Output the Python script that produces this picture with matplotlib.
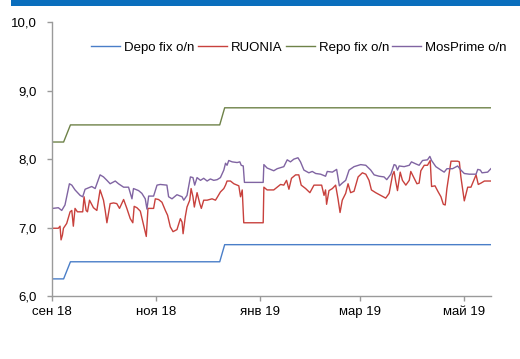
import numpy as np
import pandas as pd
import matplotlib
matplotlib.use("Agg")
import matplotlib.pyplot as plt
from matplotlib.patches import Rectangle

# ---------------- DATA ----------------
START = pd.Timestamp("2018-09-01")
END_DAY = 257.7

# step rates (days since 1 Sep 2018)
step_days = [0, 7, 11, 98.6, 101.5, 257.7]
depo_vals = [6.25, 6.25, 6.50, 6.50, 6.75, 6.75]
repo_vals = [8.25, 8.25, 8.50, 8.50, 8.75, 8.75]

ruonia_days = [0.6, 3.9, 4.9, 5.5, 6.3, 6.9, 8.8, 10.8, 11.8, 12.7, 13.7, 15.1, 16.7, 18.2,
               19.0, 20.2, 21.0, 22.2, 24.5, 26.5, 28.4, 30.4, 31.4, 32.4, 34.3, 36.3, 38.2,
               39.8, 42.2, 44.1, 46.1, 47.6, 48.4, 50.0, 52.0, 53.9, 55.5, 56.5, 59.8, 60.8,
               62.7, 64.7, 66.7, 68.0, 69.6, 71.2, 73.5, 75.5, 76.5, 77.1, 78.4, 79.4, 81.0,
               81.8, 82.9, 83.7, 85.3, 86.9, 87.8, 89.2, 91.2, 94.1, 96.1, 97.1, 99.0, 101.0,
               102.0, 102.9, 104.9, 106.9, 109.8, 110.8, 111.8, 112.7, 124.1, 124.5, 126.4,
               130.3, 132.3, 134.3, 136.2, 137.8, 139.2, 140.7, 143.1, 145.0, 146.4, 149.0,
               151.5, 153.9, 156.8, 158.4, 159.8, 160.7, 161.3, 162.7, 164.7, 166.6, 168.0,
               169.2, 170.5, 172.5, 173.9, 175.4, 177.4, 179.8, 182.3, 184.3, 186.2, 187.6,
               190.1, 193.1, 196.0, 198.0, 200.0, 200.9, 201.9, 202.9, 204.5, 205.8, 207.8,
               209.8, 210.7, 212.7, 214.3, 215.6, 216.6, 218.6, 220.5, 222.1, 222.9, 224.9,
               226.8, 228.4, 229.8, 230.9, 231.9, 234.3, 238.2, 239.2, 240.1, 242.1, 244.1,
               246.0, 249.0, 250.3, 251.9, 253.9, 255.8, 257.7]
ruonia_vals = [6.99, 6.99, 7.02, 6.82, 6.89, 6.99, 7.06, 7.23, 7.25, 7.02, 7.28, 7.23, 7.23, 7.23,
               7.45, 7.25, 7.23, 7.40, 7.29, 7.25, 7.55, 7.40, 7.25, 7.07, 7.35, 7.36, 7.35,
               7.28, 7.41, 7.28, 7.13, 7.07, 7.31, 7.29, 7.24, 7.04, 6.87, 7.28, 7.28, 7.42,
               7.41, 7.37, 7.25, 7.18, 7.01, 6.94, 6.97, 7.13, 7.08, 6.91, 7.16, 7.30, 7.40,
               7.57, 7.45, 7.30, 7.51, 7.35, 7.28, 7.40, 7.40, 7.42, 7.40, 7.44, 7.52, 7.57,
               7.62, 7.68, 7.68, 7.64, 7.61, 7.45, 7.55, 7.07, 7.07, 7.59, 7.55,
               7.55, 7.59, 7.63, 7.62, 7.69, 7.56, 7.72, 7.77, 7.77, 7.62, 7.57,
               7.51, 7.62, 7.62, 7.62, 7.47, 7.55, 7.34, 7.54, 7.57, 7.62, 7.42,
               7.22, 7.40, 7.50, 7.64, 7.51, 7.53, 7.74, 7.80, 7.78, 7.69, 7.55,
               7.51, 7.47, 7.43, 7.50, 7.77, 7.82, 7.67, 7.54, 7.81, 7.69, 7.62,
               7.69, 7.82, 7.72, 7.64, 7.65, 7.83, 7.91, 7.91, 7.98, 7.60, 7.61,
               7.52, 7.45, 7.34, 7.33, 7.57, 7.97, 7.97, 7.96, 7.74, 7.39, 7.59,
               7.59, 7.77, 7.63, 7.65, 7.68, 7.68, 7.68]

mosprime_days = [0.6, 3.9, 5.9, 7.8, 10.4, 11.8, 13.7, 16.7, 18.2, 19.6, 20.6, 23.5, 25.5, 28.4,
                 30.4, 32.4, 34.3, 37.3, 39.2, 42.2, 45.1, 47.1, 48.0, 51.0, 52.9, 54.9, 55.9,
                 56.9, 59.8, 61.8, 63.7, 67.6, 68.6, 70.6, 73.5, 76.5, 77.5, 79.4, 81.4, 82.9,
                 83.9, 85.3, 87.3, 89.2, 91.2, 93.1, 95.1, 97.1, 99.0, 101.0, 102.0, 102.9,
                 103.9, 105.9, 108.8, 110.4, 111.2, 112.4, 113.1, 124.1, 124.5, 126.4, 130.3,
                 132.3, 136.2, 138.2, 140.1, 142.1, 144.5, 146.0, 148.0, 150.9, 152.9, 154.9,
                 157.8, 160.7, 161.7, 164.7, 167.2, 168.8, 170.5, 172.5, 174.5, 177.4, 181.3,
                 184.3, 187.2, 189.2, 192.1, 195.0, 196.6, 199.0, 200.9, 201.9, 202.9, 203.9,
                 206.8, 209.8, 211.1, 213.7, 215.6, 217.6, 220.5, 221.9, 222.9, 225.4, 228.4,
                 230.3, 231.9, 235.2, 238.2, 240.1, 242.1, 245.0, 249.0, 250.0, 251.5, 252.5,
                 255.8, 257.7]
mosprime_vals = [7.28, 7.29, 7.25, 7.33, 7.64, 7.62, 7.55, 7.47, 7.45, 7.56, 7.57, 7.60, 7.57, 7.77,
                 7.74, 7.69, 7.64, 7.68, 7.64, 7.59, 7.59, 7.42, 7.57, 7.54, 7.50, 7.42, 7.27,
                 7.46, 7.46, 7.62, 7.63, 7.62, 7.45, 7.42, 7.48, 7.45, 7.40, 7.47, 7.74, 7.73,
                 7.62, 7.73, 7.69, 7.72, 7.68, 7.71, 7.69, 7.70, 7.73, 7.84, 7.94, 7.91,
                 7.98, 7.96, 7.95, 7.96, 7.91, 7.90, 7.66, 7.66, 7.92, 7.87, 7.83,
                 7.86, 7.89, 7.99, 7.96, 8.00, 8.02, 7.96, 7.84, 7.80, 7.82, 7.79,
                 7.78, 7.75, 7.82, 7.81, 7.85, 7.61, 7.65, 7.69, 7.84, 7.89, 7.92,
                 7.91, 7.84, 7.77, 7.75, 7.74, 7.70, 7.78, 7.92, 7.91, 7.84, 7.90,
                 7.89, 7.91, 7.96, 7.93, 7.91, 7.98, 7.99, 8.04, 7.98, 7.89, 7.84,
                 7.81, 7.86, 7.86, 7.90, 7.84, 7.79, 7.78, 7.78, 7.85, 7.84, 7.80,
                 7.81, 7.86]

tick_dates = ["2018-09-01", "2018-11-01", "2019-01-01", "2019-03-01", "2019-05-01"]
tick_labels = ["сен 18", "ноя 18", "янв 19", "мар 19", "май 19"]
y_ticks = [6, 7, 8, 9, 10]
# --------------------------------------

def to_dates(days):
    return START + pd.to_timedelta(np.array(days), unit="D")

plt.rcParams["font.family"] = ["Liberation Sans", "DejaVu Sans"]
plt.rcParams["font.size"] = 9.5

fig = plt.figure(figsize=(5.2, 3.59), dpi=100)
ax = fig.add_axes([0.0994, 0.1755, 0.8446, 0.7625])

# cut-off header bar at the top
fig.patches.append(Rectangle((11 / 520, 1 - 6 / 359), 1, 6 / 359, transform=fig.transFigure,
                             facecolor="#0A6EBD", edgecolor="none"))

lw = 1.0
ax.plot(to_dates(step_days), depo_vals, color="#4A7EC8", lw=lw, label="Depo fix o/n")
ax.plot(to_dates(ruonia_days), ruonia_vals, color="#C8413D", lw=lw, label="RUONIA")
ax.plot(to_dates(step_days), repo_vals, color="#6E8248", lw=lw, label="Repo fix o/n")
ax.plot(to_dates(mosprime_days), mosprime_vals, color="#8064A2", lw=lw, label="MosPrime o/n")

ax.set_xlim(START, START + pd.Timedelta(days=END_DAY))
ax.set_ylim(6, 10)
ax.set_yticks(y_ticks)
ax.set_yticklabels([f"{v:.1f}".replace(".", ",") for v in y_ticks])
ax.set_xticks(pd.to_datetime(tick_dates))
ax.set_xticklabels(tick_labels)

for s in ["top", "right"]:
    ax.spines[s].set_visible(False)
for s in ["left", "bottom"]:
    ax.spines[s].set_color("#9A9A9A")
    ax.spines[s].set_linewidth(1.0)
ax.tick_params(axis="y", direction="out", length=3.5, width=1.0, color="#9A9A9A", pad=7)
ax.tick_params(axis="x", direction="out", length=3.5, width=1.0, color="#9A9A9A", pad=4)

ax.legend(loc="center", bbox_to_anchor=(0.563, 0.906), ncol=4, frameon=False,
          handlelength=2.2, handletextpad=0.3, columnspacing=0.25, borderaxespad=0)

fig.savefig("out.png", dpi=100)
